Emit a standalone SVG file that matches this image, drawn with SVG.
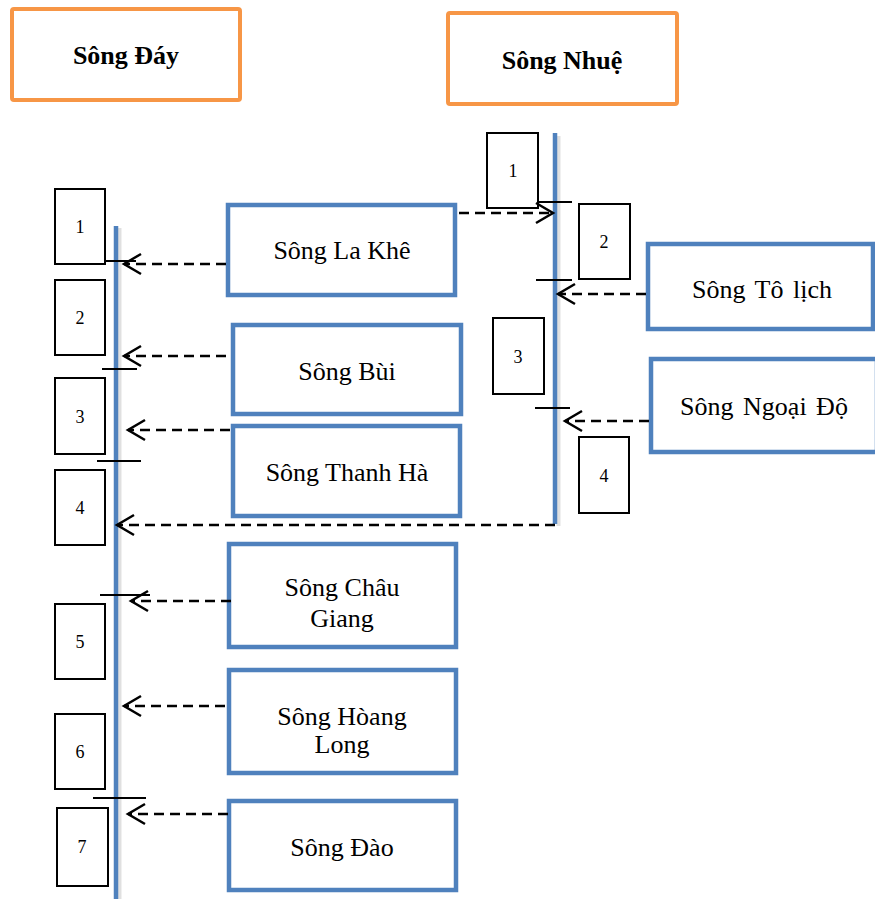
<svg xmlns="http://www.w3.org/2000/svg" width="875" height="899" viewBox="0 0 875 899">
<defs>
<style>
.title{fill:#fff;stroke:#F79646;stroke-width:4}
.ttl{font-family:"Liberation Serif","Times New Roman",serif;font-size:26px;font-weight:bold;fill:#000;text-anchor:middle}
.node{fill:#fff;stroke:#4F81BD;stroke-width:4.5}
.lbl{font-family:"Liberation Serif","Times New Roman",serif;font-size:26px;fill:#000;text-anchor:middle}
.ws{word-spacing:3px}
.sb{fill:#fff;stroke:#000;stroke-width:2}
.num{font-family:"Liberation Serif","Times New Roman",serif;font-size:18px;fill:#000;text-anchor:middle}
.axis{stroke:#4F81BD;stroke-width:4.5;fill:none}
.shadow{stroke:#000;stroke-opacity:0.12;stroke-width:4;fill:none}
.tick{stroke:#000;stroke-width:2;fill:none}
.flow{stroke:#000;stroke-width:2.5;stroke-dasharray:10 6;fill:none;marker-end:url(#arr)}
</style>
<marker id="arr" markerUnits="userSpaceOnUse" viewBox="-20 -12 22 24" markerWidth="22" markerHeight="24" refX="0" refY="0" orient="auto" overflow="visible">
<path d="M -17 -10 L 0 0 L -17 10" fill="none" stroke="#000" stroke-width="2.5"/>
</marker>
</defs>
<rect width="875" height="899" fill="#fff"/>

<g id="song-day-title">
<rect class="title" x="12" y="9" width="228" height="91" rx="2"/>
<text class="ttl" x="126" y="64">Sông Đáy</text>
</g>
<g id="song-nhue-title">
<rect class="title" x="448" y="13" width="229" height="91" rx="2"/>
<text class="ttl" x="562" y="69">Sông Nhuệ</text>
</g>

<g id="axes">
<line class="shadow" x1="119.5" y1="228" x2="119.5" y2="899"/>
<line class="axis" x1="116" y1="226" x2="116" y2="899"/>
<line class="shadow" x1="558.5" y1="136" x2="558.5" y2="526"/>
<line class="axis" x1="555" y1="133" x2="555" y2="524"/>
</g>

<g id="left-segments">
<g id="l1"><rect class="sb" x="55" y="189" width="50" height="75"/><text class="num" x="80" y="233">1</text></g>
<g id="l2"><rect class="sb" x="55" y="280" width="50" height="75"/><text class="num" x="80" y="324">2</text></g>
<g id="l3"><rect class="sb" x="55" y="378" width="50" height="76"/><text class="num" x="80" y="423">3</text></g>
<g id="l4"><rect class="sb" x="55" y="470" width="50" height="75"/><text class="num" x="80" y="514">4</text></g>
<g id="l5"><rect class="sb" x="55" y="604" width="50" height="75"/><text class="num" x="80" y="648">5</text></g>
<g id="l6"><rect class="sb" x="55" y="714" width="50" height="75"/><text class="num" x="80" y="758">6</text></g>
<g id="l7"><rect class="sb" x="57" y="808" width="51" height="78"/><text class="num" x="82" y="853">7</text></g>
</g>

<g id="right-segments">
<g id="r1"><rect class="sb" x="487" y="133" width="51" height="75"/><text class="num" x="513" y="177">1</text></g>
<g id="r2"><rect class="sb" x="579" y="204" width="51" height="75"/><text class="num" x="604" y="248">2</text></g>
<g id="r3"><rect class="sb" x="493" y="318" width="51" height="76"/><text class="num" x="518" y="363">3</text></g>
<g id="r4"><rect class="sb" x="579" y="437" width="50" height="76"/><text class="num" x="604" y="482">4</text></g>
</g>

<g id="ticks">
<line class="tick" x1="105" y1="261" x2="136" y2="261"/>
<line class="tick" x1="102" y1="369" x2="137" y2="369"/>
<line class="tick" x1="97" y1="461" x2="141" y2="461"/>
<line class="tick" x1="100" y1="595" x2="150" y2="595"/>
<line class="tick" x1="93" y1="798" x2="146" y2="798"/>
<line class="tick" x1="537" y1="202" x2="572" y2="202"/>
<line class="tick" x1="536" y1="280" x2="572" y2="280"/>
<line class="tick" x1="535" y1="408" x2="570" y2="408"/>
</g>

<g id="n-la-khe"><rect class="node" x="228" y="205" width="227" height="90"/><text class="lbl" x="342" y="259">Sông La Khê</text></g>
<g id="n-bui"><rect class="node" x="233" y="325" width="228" height="89"/><text class="lbl" x="347" y="380">Sông Bùi</text></g>
<g id="n-thanh-ha"><rect class="node" x="233" y="426" width="227" height="90"/><text class="lbl" x="347" y="481">Sông Thanh Hà</text></g>
<g id="n-chau-giang"><rect class="node" x="229" y="544" width="227" height="103"/><text class="lbl" x="342" y="596">Sông Châu</text><text class="lbl" x="342" y="627">Giang</text></g>
<g id="n-hoang-long"><rect class="node" x="229" y="670" width="227" height="103"/><text class="lbl" x="342" y="725">Sông Hòang</text><text class="lbl" x="342" y="753">Long</text></g>
<g id="n-dao"><rect class="node" x="229" y="801" width="227" height="89"/><text class="lbl" x="342" y="856">Sông Đào</text></g>
<g id="n-to-lich"><rect class="node" x="648" y="244" width="225" height="85"/><text class="lbl ws" x="762" y="298">Sông Tô lịch</text></g>
<g id="n-ngoai-do"><rect class="node" x="651" y="359" width="226" height="93"/><text class="lbl ws" x="764" y="415">Sông Ngoại Độ</text></g>

<g id="connectors">
<line class="flow" x1="226" y1="264" x2="124" y2="264"/>
<line class="flow" x1="226" y1="356" x2="124" y2="356"/>
<line class="flow" x1="230" y1="430" x2="128" y2="430"/>
<line class="flow" x1="555" y1="525" x2="117" y2="525"/>
<line class="flow" x1="231" y1="601" x2="131" y2="601"/>
<line class="flow" x1="225" y1="706" x2="124" y2="706"/>
<line class="flow" x1="228" y1="814" x2="128" y2="814"/>
<line class="flow" x1="459" y1="213" x2="553" y2="213"/>
<line class="flow" x1="646" y1="294" x2="558" y2="294"/>
<line class="flow" x1="649" y1="421" x2="565" y2="421"/>
</g>
</svg>
